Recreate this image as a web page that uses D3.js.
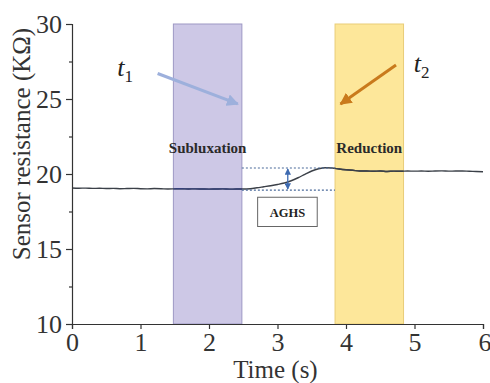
<!DOCTYPE html>
<html><head><meta charset="utf-8">
<script src="https://cdn.jsdelivr.net/npm/d3@7"></script>
<style>
html,body{margin:0;padding:0;background:#fff;}
svg text{font-family:"Liberation Serif","Times New Roman","DejaVu Serif",serif;}
</style></head>
<body><svg id="c" width="490" height="383"></svg>
<script>
const time = [0,0.1,0.2,0.3,0.4,0.5,0.6,0.7,0.8,0.9,1.0,1.1,1.2,1.3,1.4,1.5,1.6,1.7,1.8,1.9,2.0,2.1,2.2,2.3,2.4,2.5,2.6,2.7,2.8,2.9,3.0,3.1,3.2,3.3,3.4,3.5,3.6,3.7,3.8,3.9,4.0,4.1,4.2,4.3,4.4,4.5,4.6,4.7,4.8,4.9,5.0,5.1,5.2,5.3,5.4,5.5,5.6,5.7,5.8,5.9,6.0];
const resistance = [19.07,19.05,19.06,19.04,19.05,19.03,19.04,19.02,19.03,19.04,19.02,19.01,19.03,19.02,19.0,19.01,19.02,19.0,19.01,19.0,18.99,19.0,19.01,18.99,19.0,19.0,19.02,19.08,19.15,19.22,19.3,19.4,19.55,19.75,19.98,20.2,20.35,20.42,20.4,20.33,20.28,20.25,20.2,20.2,20.18,20.2,20.17,20.19,20.18,20.2,20.19,20.2,20.18,20.2,20.21,20.19,20.2,20.2,20.18,20.17,20.15];
const xTicks = [0,1,2,3,4,5,6];
const yTicks = [10,15,20,25,30];
const yMinorTicks = [12.5,17.5,22.5,27.5];
const bands = [
  {name:"Subluxation", x0:1.48, x1:2.48, fill:"#cdc8e6", stroke:"#9d98c4", lineColor:"#35407a"},
  {name:"Reduction", x0:3.84, x1:4.84, fill:"#fde79a", stroke:"#e9cd78", lineColor:"#3b4048"}
];
const aghsLevels = [18.93, 20.4];
const aghsRange = [2.48, 3.84];
const aghsArrowX = 3.15;
const timeArrows = [
  {label:"1", from:[1.25,26.7], to:[2.42,24.67], color:"#9db0dc", textPos:[0.66,26.55]},
  {label:"2", from:[4.73,27.27], to:[3.92,24.67], color:"#c97a1c", textPos:[4.99,26.8]}
];

const SERIF = "'Liberation Serif','Times New Roman','DejaVu Serif',serif";
const svg = d3.select("#c");
const m = {l:72, r:7, t:24, b:59};
const W = 490, H = 383;
const x = d3.scaleLinear().domain([0,6]).range([m.l, W-m.r]);
const y = d3.scaleLinear().domain([10,30]).range([H-m.b, m.t]);

const defs = svg.append("defs");
timeArrows.forEach((a,i)=>{
  defs.append("marker").attr("id","ah"+i).attr("viewBox","0 0 10 10").attr("refX",9).attr("refY",5)
    .attr("markerWidth",4).attr("markerHeight",4).attr("orient","auto")
    .append("path").attr("d","M0,0L10,5L0,10z").attr("fill",a.color);
});
defs.append("marker").attr("id","dh").attr("viewBox","0 0 10 10").attr("refX",9).attr("refY",5)
  .attr("markerWidth",5).attr("markerHeight",5).attr("orient","auto-start-reverse")
  .append("path").attr("d","M0,0L10,5L0,10z").attr("fill","#3d6ab0");

// bands
svg.selectAll("rect.band").data(bands).join("rect").attr("class","band")
  .attr("x",d=>x(d.x0)).attr("width",d=>x(d.x1)-x(d.x0))
  .attr("y",y(30)).attr("height",y(10)-y(30))
  .attr("fill",d=>d.fill)
  .attr("stroke",d=>d.stroke).attr("stroke-width",1);

// data line
const line = d3.line().x((d,i)=>x(time[i])).y(d=>y(d)).curve(d3.curveMonotoneX);
svg.append("path").datum(resistance).attr("d",line).attr("fill","none")
  .attr("stroke","#3b4048").attr("stroke-width",1.4);
// tinted line inside the purple band
bands.forEach((b,bi)=>{
  const cp = defs.append("clipPath").attr("id","cb"+bi);
  cp.append("rect").attr("x",x(b.x0)).attr("width",x(b.x1)-x(b.x0)).attr("y",0).attr("height",H);
  svg.append("path").datum(resistance).attr("d",line).attr("fill","none")
    .attr("clip-path",`url(#cb${bi})`).attr("stroke",b.lineColor).attr("stroke-width",1.4);
});

svg.selectAll("text.bl").data(bands).join("text").attr("class","bl")
  .attr("x",d=>x((d.x0+d.x1)/2)).attr("y",y(21.4)).attr("text-anchor","middle")
  .style("font-family",SERIF).attr("font-size",15).attr("fill","#2a2a2a").attr("font-weight","bold")
  .text(d=>d.name);

// AGHS dashed lines
aghsLevels.forEach(v=>{
  svg.append("line").attr("x1",x(aghsRange[0])).attr("x2",x(aghsRange[1]))
    .attr("y1",y(v)).attr("y2",y(v)).attr("stroke","#4a6a9a").attr("stroke-width",1.2)
    .attr("stroke-dasharray","2,2");
});
svg.append("line").attr("x1",x(aghsArrowX)).attr("x2",x(aghsArrowX))
  .attr("y1",y(aghsLevels[0])-1).attr("y2",y(aghsLevels[1])+1)
  .attr("stroke","#3d6ab0").attr("stroke-width",1.3)
  .attr("marker-start","url(#dh)").attr("marker-end","url(#dh)");
svg.append("rect").attr("x",x(2.71)).attr("y",y(18.45)).attr("width",x(3.58)-x(2.71)).attr("height",y(16.5)-y(18.45))
  .attr("fill","#fff").attr("stroke","#666").attr("stroke-width",1);
svg.append("text").attr("x",x(3.145)).attr("y",y(17.15)).attr("text-anchor","middle")
  .style("font-family",SERIF).attr("font-size",12.5).attr("font-weight","bold").attr("fill","#222").text("AGHS");

// time arrows
timeArrows.forEach((a,i)=>{
  svg.append("line").attr("x1",x(a.from[0])).attr("y1",y(a.from[1]))
    .attr("x2",x(a.to[0])).attr("y2",y(a.to[1])).attr("stroke",a.color).attr("stroke-width",3)
    .attr("marker-end","url(#ah"+i+")");
  const t = svg.append("text").attr("x",x(a.textPos[0])).attr("y",y(a.textPos[1]))
    .style("font-family",SERIF).attr("font-size",26).attr("fill","#222");
  t.append("tspan").attr("font-style","italic").text("t");
  t.append("tspan").attr("dy",6).attr("font-size",17).text(a.label);
});

// axes
const fmt = d3.format("d");
const xa = svg.append("g").attr("transform",`translate(0,${y(10)})`)
  .call(d3.axisBottom(x).tickValues(xTicks).tickFormat(fmt).tickSize(5).tickPadding(4));
const ya = svg.append("g").attr("transform",`translate(${x(0)},0)`)
  .call(d3.axisLeft(y).tickValues(yTicks).tickFormat(fmt).tickSize(6).tickPadding(4));
svg.append("g").attr("transform",`translate(${x(0)},0)`)
  .call(d3.axisLeft(y).tickValues(yMinorTicks).tickSize(3).tickFormat(""))
  .call(g=>g.select(".domain").remove());
svg.selectAll(".domain,.tick line").attr("stroke","#333").attr("stroke-width",1.2);
svg.selectAll(".tick text").style("font-family",SERIF).attr("font-size",26).attr("fill","#333");
xa.selectAll(".tick text").attr("text-anchor",d=>d===6?"end":"middle").attr("dx",d=>d===6?8:0);

svg.append("text").attr("x",x(2.97)).attr("y",378).attr("text-anchor","middle")
  .style("font-family",SERIF).attr("font-size",25).attr("fill","#333").text("Time (s)");
svg.append("text").attr("transform",`translate(30,${y(22)}) rotate(-90)`).attr("text-anchor","middle")
  .style("font-family",SERIF).attr("font-size",25).attr("fill","#333").text("Sensor resistance (KΩ)");
</script></body></html>
